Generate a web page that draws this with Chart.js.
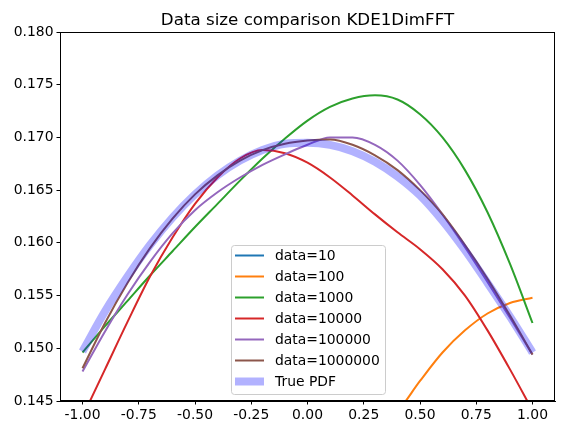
<!DOCTYPE html>
<html>
<head>
<meta charset="utf-8">
<script src="https://cdn.jsdelivr.net/npm/chart.js@4/dist/chart.umd.min.js"></script>
<style>
  html, body { margin: 0; padding: 0; background: #fff; }
  canvas { display: block; }
</style>
</head>
<body>
<canvas id="kdeChart" width="565" height="435"></canvas>
<script>
const xs = [-1.0, -0.9, -0.8, -0.7, -0.6, -0.5, -0.4, -0.3, -0.2, -0.1, 0.0,
            0.1, 0.2, 0.3, 0.4, 0.5, 0.6, 0.7, 0.8, 0.9, 1.0];

// data=10 sits below the visible range
const data10 = [0.1380, 0.1385, 0.1390, 0.1395, 0.1398, 0.1400, 0.1402, 0.1403, 0.1404, 0.1405, 0.1405,
                0.1405, 0.1404, 0.1403, 0.1402, 0.1400, 0.1398, 0.1395, 0.1390, 0.1385, 0.1380];
const data100 = [0.1200, 0.1210, 0.1220, 0.1235, 0.1250, 0.1265, 0.1285, 0.1305, 0.1325, 0.1345, 0.1365,
                 0.1385, 0.1405, 0.1422, 0.1440, 0.1469, 0.1496, 0.1517, 0.1533, 0.1543, 0.1548];
const data1000 = [0.1496, 0.1521, 0.1545, 0.1569, 0.1592, 0.1615, 0.1637, 0.1659, 0.1680, 0.1699, 0.1716,
                  0.1729, 0.1737, 0.1740, 0.1736, 0.1722, 0.1700, 0.1669, 0.1629, 0.1580, 0.1524];
const data10000 = [0.1435, 0.1480, 0.1525, 0.1568, 0.1605, 0.1637, 0.1662, 0.1680, 0.1688, 0.1685, 0.1676,
                   0.1662, 0.1645, 0.1627, 0.1610, 0.1594, 0.1575, 0.1550, 0.1517, 0.1480, 0.1441];
const data100000 = [0.1478, 0.1516, 0.1551, 0.1582, 0.1609, 0.1631, 0.1648, 0.1662, 0.1674, 0.1684, 0.1693,
                    0.1700, 0.1700, 0.1693, 0.1678, 0.1655, 0.1627, 0.1596, 0.1563, 0.1529, 0.1494];
const data1000000 = [0.1481, 0.1524, 0.1562, 0.1595, 0.1623, 0.1646, 0.1664, 0.1678, 0.1688, 0.1694, 0.1697,
                     0.1698, 0.1693, 0.1683, 0.1669, 0.1650, 0.1627, 0.1598, 0.1566, 0.1531, 0.1494];
const truePdf = [0.1497, 0.1535, 0.1568, 0.1598, 0.1624, 0.1646, 0.1664, 0.1678, 0.1688, 0.1694, 0.1695,
                 0.1693, 0.1687, 0.1677, 0.1663, 0.1645, 0.1621, 0.1593, 0.1562, 0.1530, 0.1496];

const seriesNames = ['data=10', 'data=100', 'data=1000', 'data=10000', 'data=100000', 'data=1000000', 'True PDF'];
const xTicks = [-1.0, -0.75, -0.5, -0.25, 0.0, 0.25, 0.5, 0.75, 1.0];
const yTicks = [0.145, 0.150, 0.155, 0.160, 0.165, 0.170, 0.175, 0.180];

const allSeries = [data10, data100, data1000, data10000, data100000, data1000000, truePdf];
const colors = ['#1f77b4', '#ff7f0e', '#2ca02c', '#d62728', '#9467bd', '#8c564b', 'rgba(0,0,255,0.3)'];
const widths = [2, 2, 2, 2, 2, 2, 8];

const FONT = 'DejaVu Sans';

const datasets = allSeries.map((s, i) => ({
    label: seriesNames[i],
    data: s.map((v, j) => ({ x: xs[j], y: v })),
    borderColor: colors[i],
    backgroundColor: colors[i],
    borderWidth: widths[i],
    pointRadius: 0,
    cubicInterpolationMode: 'monotone',
    fill: false,
    order: allSeries.length - i   // later series on top, like matplotlib
}));

// frame, title and legend drawn like matplotlib
const mplPlugin = {
    id: 'mpl',
    afterDraw(chart) {
        const ctx = chart.ctx;
        const a = chart.chartArea;
        ctx.save();
        ctx.strokeStyle = '#000';
        ctx.lineWidth = 1;
        ctx.strokeRect(Math.round(a.left) + 0.5, Math.round(a.top) + 0.5,
                       Math.round(a.right - a.left) - 1, Math.round(a.bottom - a.top) - 1);

        // title
        ctx.fillStyle = '#000';
        ctx.font = '16.7px "' + FONT + '"';
        ctx.textAlign = 'center';
        ctx.textBaseline = 'alphabetic';
        ctx.fillText('Data size comparison KDE1DimFFT', (a.left + a.right) / 2, 25);

        // legend box
        const bx = 231, by = 245, bw = 154, bh = 149;
        ctx.beginPath();
        ctx.roundRect(bx + 0.5, by + 0.5, bw, bh, 3);
        ctx.fillStyle = 'rgba(255,255,255,0.8)';
        ctx.fill();
        ctx.strokeStyle = '#cccccc';
        ctx.stroke();

        ctx.font = '13.9px "' + FONT + '"';
        ctx.textAlign = 'left';
        ctx.textBaseline = 'middle';
        chart.data.datasets.forEach((ds, i) => {
            const yy = 255.5 + i * 21;
            ctx.beginPath();
            ctx.moveTo(235, yy);
            ctx.lineTo(264, yy);
            ctx.strokeStyle = ds.borderColor;
            ctx.lineWidth = ds.borderWidth;
            ctx.stroke();
            ctx.fillStyle = '#000';
            ctx.fillText(ds.label, 275, yy + 1);
        });
        ctx.restore();
    }
};

new Chart(document.getElementById('kdeChart'), {
    type: 'line',
    data: { datasets: datasets },
    options: {
        responsive: false,
        animation: false,
        devicePixelRatio: 1,
        layout: { padding: { top: 32, right: 10, left: 0, bottom: 0 } },
        plugins: {
            legend: { display: false },
            title: { display: false },
            tooltip: { enabled: false }
        },
        scales: {
            x: {
                type: 'linear',
                min: -1.1,
                max: 1.1,
                afterBuildTicks: scale => { scale.ticks = xTicks.map(v => ({ value: v })); },
                afterFit: scale => { scale.height = 34; },
                grid: { drawOnChartArea: false, drawTicks: true, tickLength: 3.5, color: '#000', tickColor: '#000' },
                border: { display: true, color: '#000', width: 1 },
                ticks: {
                    color: '#000',
                    padding: 3,
                    maxRotation: 0,
                    autoSkip: false,
                    font: { family: FONT, size: 13.9 },
                    callback: v => v.toFixed(2)
                }
            },
            y: {
                type: 'linear',
                min: 0.145,
                max: 0.180,
                afterBuildTicks: scale => { scale.ticks = yTicks.map(v => ({ value: v })); },
                afterFit: scale => { scale.width = 60; },
                grid: { drawOnChartArea: false, drawTicks: true, tickLength: 3.5, color: '#000', tickColor: '#000' },
                border: { display: true, color: '#000', width: 1 },
                ticks: {
                    color: '#000',
                    padding: 3,
                    autoSkip: false,
                    font: { family: FONT, size: 13.9 },
                    callback: v => v.toFixed(3)
                }
            }
        }
    },
    plugins: [mplPlugin]
});
</script>
</body>
</html>
